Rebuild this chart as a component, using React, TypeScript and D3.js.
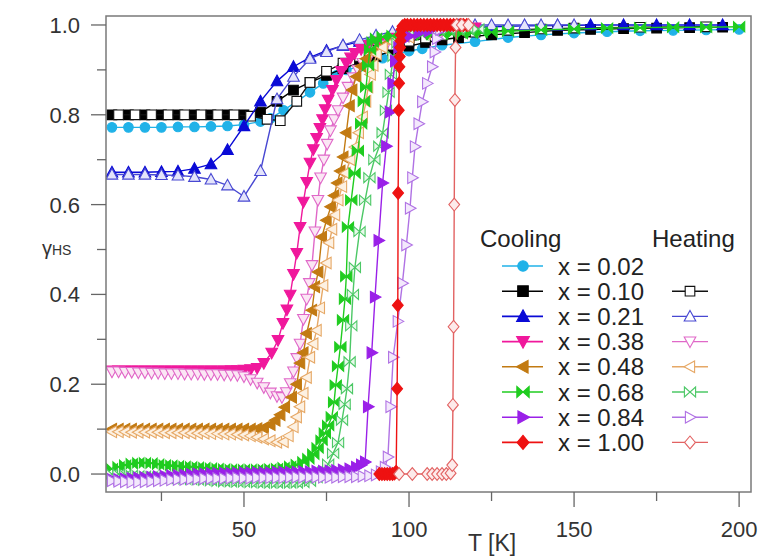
import React from 'react';
import * as d3 from 'd3';

type P = [number, number];

// ---------- data: [T (K), gamma_HS] ----------
const COOL_002: P[] = [[10,0.772],[15,0.772],[20,0.772],[25,0.772],[30,0.773],[35,0.773],[40,0.774],[45,0.775],[50,0.778],[55,0.785],[58,0.792],[62,0.81],[66,0.83],[70,0.85],[74,0.87],[78,0.888],[81,0.9],[85,0.907],[89,0.918],[92,0.926],[96,0.934],[100,0.942],[104,0.947],[110,0.955],[120,0.963],[130,0.972],[140,0.978],[150,0.982],[160,0.985],[170,0.987],[180,0.988],[190,0.989],[200,0.99]];

const COOL_010: P[] = [[10,0.8],[15,0.8],[20,0.8],[25,0.8],[30,0.8],[35,0.8],[40,0.8],[45,0.8],[50,0.8],[55,0.806],[60,0.83],[65,0.855],[70,0.872],[75,0.888],[80,0.903],[85,0.916],[90,0.93],[95,0.943],[100,0.953],[105,0.961],[110,0.967],[115,0.972],[125,0.978],[135,0.983],[145,0.988],[155,0.99],[165,0.992],[175,0.993],[185,0.994],[195,0.995]];
const HEAT_010: P[] = [[12,0.8],[17,0.8],[22,0.8],[27,0.8],[32,0.8],[37,0.8],[42,0.8],[47,0.8],[52,0.797],[57,0.79],[61,0.787],[66,0.83],[70,0.872],[75,0.897],[80,0.915],[85,0.93],[90,0.944],[95,0.955],[100,0.964],[105,0.971],[110,0.977],[120,0.984],[130,0.988],[140,0.991],[150,0.993],[170,0.995],[190,0.996]];

const COOL_021: P[] = [[10,0.672],[15,0.672],[20,0.672],[25,0.673],[30,0.674],[35,0.68],[40,0.69],[45,0.722],[50,0.775],[55,0.83],[60,0.875],[65,0.907],[70,0.928],[75,0.943],[80,0.954],[85,0.963],[90,0.971],[95,0.978],[100,0.984],[105,0.988],[115,0.993],[125,0.996],[135,0.998],[145,0.999],[155,1.0],[165,1.0],[175,1.0],[185,1.0],[195,1.0]];
const HEAT_021: P[] = [[10,0.667],[15,0.667],[20,0.667],[25,0.666],[30,0.665],[35,0.662],[40,0.656],[45,0.643],[50,0.618],[55,0.675],[60,0.835],[65,0.885],[70,0.925],[75,0.94],[80,0.955],[85,0.967],[90,0.977],[95,0.985],[100,0.99],[105,0.994],[110,0.997],[115,0.999],[120,1.0],[125,1.0],[130,1.0],[135,1.0],[140,1.0],[145,1.0],[150,1.0]];

const COOL_038: P[] = [[10,0.23],[12,0.23],[14,0.23],[16,0.23],[18,0.23],[20,0.23],[22,0.23],[24,0.23],[26,0.23],[28,0.23],[30,0.23],[32,0.23],[34,0.23],[36,0.23],[38,0.23],[40,0.23],[42,0.23],[44,0.23],[46,0.231],[48,0.231],[50,0.232],[52,0.233],[54,0.236],[56,0.247],[58.4,0.27],[60.3,0.298],[61.8,0.336],[63,0.366],[64,0.399],[65,0.445],[66,0.492],[67,0.55],[68,0.606],[69,0.65],[70,0.693],[71,0.723],[72,0.748],[73,0.77],[73.8,0.79],[74.6,0.812],[75.5,0.833],[76.8,0.855],[78,0.877],[79.5,0.897],[81,0.915],[82.3,0.927],[83.6,0.937],[85.5,0.946],[88,0.955],[91,0.963],[95,0.971],[100,0.979],[105,0.985],[110,0.989],[115,0.992],[120,0.994]];
const HEAT_038: P[] = [[10,0.228],[12,0.228],[14,0.227],[16,0.227],[18,0.226],[20,0.226],[22,0.225],[24,0.225],[26,0.224],[28,0.224],[30,0.224],[32,0.223],[34,0.223],[36,0.223],[38,0.222],[40,0.222],[42,0.222],[44,0.221],[46,0.221],[48,0.22],[50,0.217],[52,0.211],[54,0.203],[56,0.193],[58,0.181],[60,0.173],[61.5,0.171],[62.8,0.182],[64,0.202],[65,0.228],[66,0.258],[67,0.29],[68,0.345],[69,0.39],[69.8,0.425],[70.6,0.465],[71.5,0.54],[72.4,0.61],[73.2,0.66],[74.2,0.7],[75.2,0.735],[76.2,0.765],[77.3,0.79],[78.5,0.81],[80,0.838],[81.5,0.862],[83,0.883],[84.5,0.9],[86,0.915],[88,0.93],[90,0.942],[93,0.955],[96,0.965],[100,0.975],[105,0.983],[110,0.988],[115,0.992]];

const COOL_048: P[] = [[10,0.1],[12,0.1],[14,0.1],[16,0.1],[18,0.1],[20,0.1],[22,0.1],[24,0.1],[26,0.1],[28,0.1],[30,0.1],[32,0.1],[34,0.1],[36,0.1],[38,0.1],[40,0.1],[42,0.1],[44,0.1],[46,0.1],[48,0.1],[50,0.1],[52,0.1],[54,0.101],[56,0.103],[58,0.11],[59.5,0.12],[61,0.132],[62.4,0.149],[64.5,0.171],[66,0.2],[67,0.247],[68,0.27],[69,0.313],[70.6,0.365],[71.5,0.417],[72.5,0.45],[73.6,0.528],[75,0.565],[76.3,0.595],[77.3,0.62],[78.3,0.648],[79.2,0.675],[80.1,0.706],[81,0.76],[82,0.82],[82.8,0.855],[84,0.885],[85.5,0.908],[87,0.925],[89,0.94],[92,0.953],[95,0.963],[100,0.974],[105,0.982],[110,0.987],[115,0.99]];
const HEAT_048: P[] = [[10,0.094],[12,0.094],[14,0.094],[16,0.093],[18,0.093],[20,0.093],[22,0.093],[24,0.093],[26,0.092],[28,0.092],[30,0.092],[32,0.092],[34,0.091],[36,0.091],[38,0.091],[40,0.09],[42,0.09],[44,0.089],[46,0.089],[48,0.088],[50,0.087],[52,0.085],[54,0.082],[56,0.078],[58,0.074],[60,0.071],[62,0.072],[63.5,0.085],[65,0.105],[66,0.127],[67,0.15],[68,0.18],[69,0.215],[70,0.26],[71,0.29],[72,0.32],[73,0.37],[74,0.42],[75,0.47],[75.8,0.515],[76.7,0.545],[77.6,0.577],[78.6,0.61],[79.7,0.64],[80.8,0.67],[82.2,0.7],[83.6,0.728],[84.8,0.76],[86,0.795],[87,0.83],[87.6,0.862],[88.4,0.89],[89.2,0.91],[90.2,0.935],[92,0.95],[95,0.962],[100,0.973],[105,0.981],[110,0.987]];

const COOL_068: P[] = [[10,0.012],[12,0.016],[14,0.02],[16,0.023],[18,0.025],[20,0.025],[22,0.024],[24,0.022],[26,0.02],[28,0.019],[30,0.018],[32,0.017],[34,0.016],[36,0.015],[38,0.014],[40,0.013],[42,0.012],[44,0.011],[46,0.01],[48,0.01],[50,0.01],[52,0.01],[54,0.01],[56,0.01],[58,0.011],[60,0.012],[62,0.014],[64,0.017],[66,0.021],[68,0.027],[69.5,0.034],[71,0.044],[72.3,0.058],[73.5,0.075],[74.5,0.091],[75.5,0.108],[76.6,0.127],[77.3,0.16],[77.8,0.198],[78.5,0.24],[79.2,0.283],[80,0.343],[80.6,0.39],[81,0.44],[81.5,0.55],[82.5,0.61],[83.5,0.67],[84.5,0.72],[85.5,0.78],[86.3,0.83],[87,0.862],[87.6,0.91],[88.2,0.945],[89,0.962],[90,0.97],[92,0.974],[95,0.976],[98,0.977],[101,0.978],[104,0.978],[107,0.979],[110,0.98],[113,0.98],[116,0.981],[119,0.982],[122,0.983],[125,0.984],[130,0.986],[140,0.989],[150,0.991],[160,0.993],[170,0.994],[180,0.995],[190,0.995],[200,0.996]];
const HEAT_068: P[] = [[10,0.0],[12,0.0],[14,-0.002],[16,-0.003],[18,-0.004],[20,-0.005],[22,-0.006],[24,-0.007],[26,-0.008],[28,-0.009],[30,-0.01],[32,-0.011],[34,-0.012],[36,-0.013],[38,-0.014],[40,-0.015],[42,-0.016],[44,-0.017],[46,-0.017],[48,-0.018],[50,-0.018],[52,-0.019],[54,-0.019],[56,-0.02],[58,-0.02],[60,-0.02],[62,-0.02],[64,-0.02],[66,-0.02],[68,-0.019],[70,-0.016],[72,-0.008],[74,0.004],[75.5,0.022],[77,0.046],[78.5,0.07],[79.7,0.12],[80.5,0.155],[81.2,0.19],[82,0.25],[82.5,0.33],[83,0.4],[83.6,0.46],[85,0.54],[86.7,0.61],[88,0.66],[89.5,0.7],[91,0.73],[92,0.76],[93,0.81],[93.8,0.85],[94.5,0.89],[95.3,0.93],[96.5,0.96],[98,0.975],[100,0.982],[103,0.985],[106,0.987],[109,0.988],[112,0.989],[115,0.99],[118,0.99],[121,0.991]];

const COOL_084: P[] = [[10,-0.012],[12,-0.012],[14,-0.011],[16,-0.01],[18,-0.009],[20,-0.008],[22,-0.007],[24,-0.006],[26,-0.005],[28,-0.004],[30,-0.003],[32,-0.002],[34,-0.001],[36,0.0],[38,0.0],[40,0.001],[42,0.001],[44,0.002],[46,0.002],[48,0.002],[50,0.003],[52,0.003],[54,0.003],[56,0.003],[58,0.003],[60,0.004],[62,0.004],[64,0.004],[66,0.004],[68,0.005],[70,0.005],[72,0.006],[74,0.006],[76,0.007],[78,0.008],[80,0.009],[82,0.011],[84,0.015],[85.5,0.02],[86.7,0.027],[87.6,0.15],[88.7,0.27],[89.7,0.394],[90.8,0.52],[92,0.648],[93.1,0.73],[94.2,0.806],[95,0.87],[95.8,0.92],[96.8,0.95],[98,0.965],[100,0.975],[103,0.982],[106,0.986],[110,0.99]];
const HEAT_084: P[] = [[10,-0.015],[12,-0.016],[14,-0.017],[16,-0.018],[18,-0.018],[20,-0.017],[22,-0.016],[24,-0.015],[26,-0.014],[28,-0.013],[30,-0.012],[32,-0.012],[34,-0.011],[36,-0.011],[38,-0.01],[40,-0.01],[42,-0.01],[44,-0.01],[46,-0.009],[48,-0.009],[50,-0.009],[52,-0.009],[54,-0.008],[56,-0.008],[58,-0.008],[60,-0.008],[62,-0.008],[64,-0.007],[66,-0.007],[68,-0.007],[70,-0.007],[72,-0.007],[74,-0.007],[76,-0.007],[78,-0.007],[80,-0.006],[82,-0.006],[84,-0.006],[86,-0.005],[88,-0.004],[90,-0.002],[91.5,0.005],[92.7,0.015],[93.6,0.038],[94.4,0.15],[95.2,0.26],[96.6,0.34],[98,0.425],[99.2,0.51],[100.3,0.592],[101,0.66],[101.8,0.729],[102.9,0.78],[104,0.829],[105.5,0.87],[107,0.907],[107.8,0.94],[108.5,0.97],[109.5,0.99],[111,0.995],[114,0.998]];

const COOL_100: P[] = [[91,0.0],[91.8,0.0],[92.6,0.0],[93.4,0.0],[94.2,0.0],[95,0.0],[95.6,0.001],[96.1,0.005],[96.4,0.19],[96.6,0.376],[96.7,0.626],[96.9,0.81],[97,0.87],[97.1,0.907],[97.2,0.93],[97.3,0.95],[97.4,0.965],[97.5,0.978],[97.7,0.99],[98,0.997],[98.7,1.0],[99.5,1.0],[100.5,1.0],[101.5,1.0],[102.5,1.0],[103.5,1.0],[104.5,1.0],[105.5,1.0],[106.5,1.0],[107.5,1.0],[108.5,1.0],[109.5,1.0],[110.5,1.0],[111.5,1.0],[112.5,1.0],[113.5,1.0],[114.5,1.0],[115.5,1.0],[116.5,1.0],[117.5,1.0]];
const HEAT_100: P[] = [[97,0.0],[101,0.0],[105.5,0.0],[107,0.0],[108.5,0.0],[110,0.0],[111.3,0.0],[112.6,0.002],[113.1,0.02],[113.3,0.154],[113.5,0.328],[113.7,0.6],[113.9,0.833],[114.1,0.95],[114.4,1.0],[116,1.0],[118,1.0]];

const LABELS = ['x = 0.02', 'x = 0.10', 'x = 0.21', 'x = 0.38', 'x = 0.48', 'x = 0.68', 'x = 0.84', 'x = 1.00'];
const X_TICKS = [50, 100, 150, 200];
const X_MINOR = [25, 75, 125, 175];
const Y_TICKS = [0, 0.2, 0.4, 0.6, 0.8, 1.0];
const Y_MINOR = [0.1, 0.3, 0.5, 0.7, 0.9];

// ---------- styles ----------
type Shape = 'circle' | 'square' | 'up' | 'down' | 'left' | 'bowtie' | 'right' | 'diamond';
const SERIES: { cool: P[]; heat: P[] | null; shape: Shape; c: string; hc: string; hf: string }[] = [
  { cool: COOL_002, heat: null, shape: 'circle', c: '#20b2e8', hc: '#20b2e8', hf: '#ffffff' },
  { cool: COOL_010, heat: HEAT_010, shape: 'square', c: '#000000', hc: '#111111', hf: '#ffffff' },
  { cool: COOL_021, heat: HEAT_021, shape: 'up', c: '#0a0ad6', hc: '#4848d2', hf: '#e4e4fb' },
  { cool: COOL_038, heat: HEAT_038, shape: 'down', c: '#f0189c', hc: '#e068c8', hf: '#fbe6f4' },
  { cool: COOL_048, heat: HEAT_048, shape: 'left', c: '#c27a12', hc: '#e6a866', hf: '#fdf1e2' },
  { cool: COOL_068, heat: HEAT_068, shape: 'bowtie', c: '#1fcc1f', hc: '#4cc866', hf: '#e8f8ea' },
  { cool: COOL_084, heat: HEAT_084, shape: 'right', c: '#9a20e8', hc: '#b072e4', hf: '#f3e8fc' },
  { cool: COOL_100, heat: HEAT_100, shape: 'diamond', c: '#ee1212', hc: '#e26262', hf: '#fdeaea' },
];

const W = 761, H = 558;
const PL = 106, PR = 751, PT = 16, PB = 492;
const xS = d3.scaleLinear().domain([8.2, 203.6]).range([PL, PR]);
const yS = d3.scaleLinear().domain([-0.04, 1.02]).range([PB, PT]);
const FONT = '"Liberation Sans", Arial, Helvetica, sans-serif';

function markerPath(shape: Shape): string {
  switch (shape) {
    case 'circle': return 'M4.8,0A4.8,4.8 0 1,1 -4.8,0A4.8,4.8 0 1,1 4.8,0Z';
    case 'square': return 'M-4.8,-4.8H4.8V4.8H-4.8Z';
    case 'up': return 'M0,-6L5.8,4.6L-5.8,4.6Z';
    case 'down': return 'M0,6L5.8,-4.6L-5.8,-4.6Z';
    case 'left': return 'M-6,0L4.6,-5.8L4.6,5.8Z';
    case 'right': return 'M6,0L-4.6,-5.8L-4.6,5.8Z';
    case 'diamond': return 'M0,-6.4L5.4,0L0,6.4L-5.4,0Z';
    case 'bowtie': return 'M-5.6,-5L0,0L-5.6,5ZM5.6,-5L0,0L5.6,5Z';
  }
}

const lineGen = d3.line<P>().x((d) => xS(d[0])).y((d) => yS(d[1]));

function Trace({ data, shape, stroke, fill }: { data: P[]; shape: Shape; stroke: string; fill: string }) {
  const mp = markerPath(shape);
  return (
    <g>
      <path d={lineGen(data) || ''} fill="none" stroke={stroke} strokeWidth={1.4} />
      {data.map((d, i) => (
        <path key={i} d={mp} transform={`translate(${xS(d[0])},${yS(d[1])})`} fill={fill} stroke={stroke} strokeWidth={1.1} />
      ))}
    </g>
  );
}

export default function App() {
  const legX = 523, legHX = 690, legTextX = 558, legY0 = 266, legDY = 25.2;
  return (
    <svg width={W} height={H} style={{ position: 'absolute', left: 0, top: 0, background: '#fff' }} fontFamily={FONT}>
      <rect x={0} y={0} width={W} height={H} fill="#fff" />
      <defs>
        <clipPath id="plotclip">
          <rect x={PL} y={PT - 6} width={PR - PL} height={PB - PT + 6} />
        </clipPath>
      </defs>
      <g clipPath="url(#plotclip)">
        {SERIES.map((s, i) => (
          <g key={i}>
            <Trace data={s.cool} shape={s.shape} stroke={s.c} fill={s.c} />
            {s.heat && <Trace data={s.heat} shape={s.shape} stroke={s.hc} fill={s.hf} />}
          </g>
        ))}
      </g>
      {/* frame */}
      <rect x={PL} y={PT} width={PR - PL} height={PB - PT} fill="none" stroke="#7a7a7a" strokeWidth={1.5} />
      {/* y ticks */}
      {Y_TICKS.map((t) => (
        <g key={'y' + t}>
          <line x1={PL - 15} x2={PL} y1={yS(t)} y2={yS(t)} stroke="#666" strokeWidth={1.3} />
          <text x={80} y={yS(t)} dy="0.36em" textAnchor="end" fontSize={22} fill="#333">{t.toFixed(1)}</text>
        </g>
      ))}
      {Y_MINOR.map((t) => (
        <line key={'ym' + t} x1={PL - 9} x2={PL} y1={yS(t)} y2={yS(t)} stroke="#666" strokeWidth={1.3} />
      ))}
      {/* x ticks */}
      {X_TICKS.map((t) => (
        <g key={'x' + t}>
          <line x1={xS(t)} x2={xS(t)} y1={PB} y2={PB + 15} stroke="#666" strokeWidth={1.3} />
          <text x={xS(t)} y={537} textAnchor="middle" fontSize={22} fill="#333">{t}</text>
        </g>
      ))}
      {X_MINOR.map((t) => (
        <line key={'xm' + t} x1={xS(t)} x2={xS(t)} y1={PB} y2={PB + 9} stroke="#666" strokeWidth={1.3} />
      ))}
      {/* axis titles */}
      <text x={468} y={551} fontSize={23} fill="#333">T [K]</text>
      <text x={42} y={255} fill="#333">
        <tspan fontSize={20}>γ</tspan>
        <tspan fontSize={14}>HS</tspan>
      </text>
      {/* legend */}
      <text x={480} y={247} fontSize={24} fill="#222">Cooling</text>
      <text x={652} y={247} fontSize={24} fill="#222">Heating</text>
      {SERIES.map((s, i) => {
        const yy = legY0 + i * legDY;
        const mp = markerPath(s.shape);
        return (
          <g key={'leg' + i}>
            <line x1={legX - 21} x2={legX + 20} y1={yy} y2={yy} stroke={s.c} strokeWidth={1.6} />
            <path d={mp} transform={`translate(${legX},${yy}) scale(1.1)`} fill={s.c} stroke={s.c} strokeWidth={1} />
            <text x={legTextX} y={yy} dy="0.36em" fontSize={24} fill="#222">{LABELS[i]}</text>
            {s.heat && (
              <g>
                <line x1={legHX - 18} x2={legHX + 18} y1={yy} y2={yy} stroke={s.hc} strokeWidth={1.4} />
                <path d={mp} transform={`translate(${legHX},${yy})`} fill="#fff" stroke={s.hc} strokeWidth={1.1} />
              </g>
            )}
          </g>
        );
      })}
    </svg>
  );
}
